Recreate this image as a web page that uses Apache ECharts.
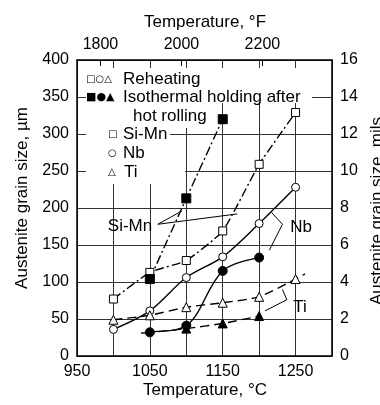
<!DOCTYPE html>
<html><head><meta charset="utf-8">
<script src="https://cdn.jsdelivr.net/npm/echarts@6/dist/echarts.min.js"></script>
<style>html,body{margin:0;padding:0;background:#fff}#c{width:380px;height:405px}</style>
</head><body><div id="c"></div>
<script>
// ---- data ----
const bottomTicksC = [950, 1050, 1150, 1250];
const topTicksF = [1800, 2000, 2200];
const leftTicks = [0, 50, 100, 150, 200, 250, 300, 350, 400];
const rightTicks = [0, 2, 4, 6, 8, 10, 12, 14, 16];

// Reheating (open symbols)
const siMnReheat = [[1000, 77], [1050, 113], [1100, 129], [1150, 169], [1200, 259], [1250, 329]];
const nbReheat   = [[1000, 36], [1050, 61], [1100, 106], [1150, 134], [1200, 179], [1250, 228]];
const tiReheat   = [[1000, 49], [1050, 55], [1100, 66], [1150, 72], [1200, 80], [1250, 104]];
const tiReheatTail = [1263, 111];
// Isothermal holding after hot rolling (filled symbols)
const siMnHold = [[1050, 104], [1100, 213], [1150, 320]];
const nbHold   = [[1050, 32], [1100, 41], [1150, 115], [1200, 133]];
const nbHoldLead = [1038, 31];
const tiHold   = [[1100, 37], [1150, 44], [1200, 54]];
const tiHoldLead = [1062, 33];

// annotation leader lines / brackets (data units)
const siMnLeaderA = [[1061, 178], [1094, 196]];
const siMnLeaderB = [[1061, 178], [1170, 192]];
const nbBracket = [[1217, 194], [1232, 178], [1214, 143]];
const tiBracket = [[1232, 90], [1238, 76], [1208, 61]];

// ---- chart ----
const FONT = '"Liberation Sans", Arial, Helvetica, sans-serif';
const chart = echarts.init(document.getElementById('c'), null, {renderer: 'canvas'});

function pts(arr, lead, tail) {
  const d = arr.map(p => ({value: p}));
  if (lead) d.unshift({value: lead, symbol: 'none'});
  if (tail) d.push({value: tail, symbol: 'none'});
  return d;
}
function series(name, data, symbol, size, filled, dash, smooth) {
  return {
    name, type: 'line', data, symbol, symbolSize: size, smooth,
    z: 5,
    lineStyle: {color: '#000', width: 1.4, type: dash},
    itemStyle: {color: filled ? '#000' : '#fff', borderColor: '#000', borderWidth: 1, opacity: 1},
    emphasis: {disabled: true}, silent: true
  };
}
function annot(data) {
  return {type: 'line', data, symbol: 'none', z: 4, silent: true,
    lineStyle: {color: '#000', width: 1}, emphasis: {disabled: true}};
}
const DASHDOT = [9, 3, 2, 3];
const DASH = [9, 5];

function txt(text, x, y, size, align, extra) {
  return Object.assign({type: 'text', x, y, z: 10, silent: true,
    style: {text, fill: '#000', font: size + 'px ' + FONT, textAlign: align || 'left', textVerticalAlign: 'middle'}}, extra || {});
}
function sym(text, x, y, size) {
  return {type: 'text', x, y, z: 10, silent: true,
    style: {text, fill: '#000', font: size + 'px "DejaVu Sans", sans-serif', textAlign: 'left', textVerticalAlign: 'middle'}};
}
function mask(x, y, w, h) {
  return {type: 'rect', z: 1, silent: true, shape: {x, y, width: w, height: h}, style: {fill: '#fff'}};
}

const labelStyle = {color: '#000', fontSize: 16, fontFamily: FONT, formatter: v => String(v)};
const GRID = {show: true, lineStyle: {color: '#333', width: 1}};

chart.setOption({
  animation: false,
  grid: {left: 77, right: 48, top: 60, bottom: 49, containLabel: false},
  xAxis: [
    {type: 'value', position: 'bottom', min: 950, max: 1300, interval: 50, z: 0,
     axisLine: {show: true, onZero: false, lineStyle: {color: '#000', width: 1.5}},
     axisTick: {show: false},
     axisLabel: Object.assign({customValues: bottomTicksC, margin: 8}, labelStyle),
     splitLine: GRID},
    {type: 'value', position: 'top', min: 950 * 1.8 + 32, max: 1300 * 1.8 + 32, z: 0,
     axisLine: {show: true, onZero: false, lineStyle: {color: '#000', width: 1.5}},
     axisTick: {show: true, inside: true, length: 6, customValues: topTicksF, lineStyle: {color: '#000'}},
     axisLabel: Object.assign({customValues: topTicksF, margin: 7}, labelStyle),
     splitLine: {show: false}}
  ],
  yAxis: [
    {type: 'value', position: 'left', min: 0, max: 400, interval: 50, z: 0,
     axisLine: {show: true, onZero: false, lineStyle: {color: '#000', width: 1.5}},
     axisTick: {show: false},
     axisLabel: Object.assign({customValues: leftTicks, margin: 8}, labelStyle),
     splitLine: GRID},
    {type: 'value', position: 'right', min: 0, max: 16, interval: 2, z: 0,
     axisLine: {show: true, onZero: false, lineStyle: {color: '#000', width: 1.5}},
     axisTick: {show: false},
     axisLabel: Object.assign({customValues: rightTicks, margin: 8}, labelStyle),
     splitLine: {show: false}}
  ],
  series: [
    series('Si-Mn reheating', pts(siMnReheat), 'rect', 8, false, DASHDOT, 0.15),
    series('Si-Mn holding', pts(siMnHold), 'rect', 9, true, DASHDOT, 0.1),
    series('Nb reheating', pts(nbReheat), 'circle', 8, false, 'solid', 0.3),
    series('Nb holding', pts(nbHold, nbHoldLead), 'circle', 9, true, 'solid', 0.35),
    series('Ti reheating', pts(tiReheat, null, tiReheatTail), 'triangle', 9, false, DASH, 0.2),
    series('Ti holding', pts(tiHold, tiHoldLead), 'triangle', 9, true, DASH, 0.2),
    annot(siMnLeaderA), annot(siMnLeaderB), annot(nbBracket), annot(tiBracket)
  ],
  graphic: {elements: [
    // white area behind the key (hides grid lines there)
    mask(86, 68, 226, 35),
    mask(86, 103, 84, 37),
    mask(170, 103, 20, 25),
    mask(86, 140, 99, 44),
    // axis titles
    txt('Temperature, °F', 205, 22, 17, 'center'),
    txt('Temperature, °C', 205, 390, 17, 'center'),
    txt('Austenite grain size, µm', 22, 198, 17, 'center', {rotation: Math.PI / 2}),
    txt('Austenite grain size, mils', 377, 211, 17, 'center', {rotation: Math.PI / 2}),
    // key
    sym('□○△', 86, 79, 10),
    txt('Reheating', 123, 79, 17),
    sym('■●▲', 86, 97, 11),
    txt('Isothermal holding after', 123, 97, 17),
    txt('hot rolling', 133, 116, 17),
    sym('□', 108, 134, 10), txt('Si-Mn', 123, 134, 17),
    sym('○', 108, 153, 10), txt('Nb', 123, 153, 17),
    sym('△', 108, 172, 10), txt('Ti', 124, 172, 17),
    // curve labels
    txt('Si-Mn', 130, 226, 17, 'center'),
    txt('Nb', 301, 227, 17, 'center'),
    txt('Ti', 300, 307, 17, 'center')
  ]}
});
</script>
</body></html>
